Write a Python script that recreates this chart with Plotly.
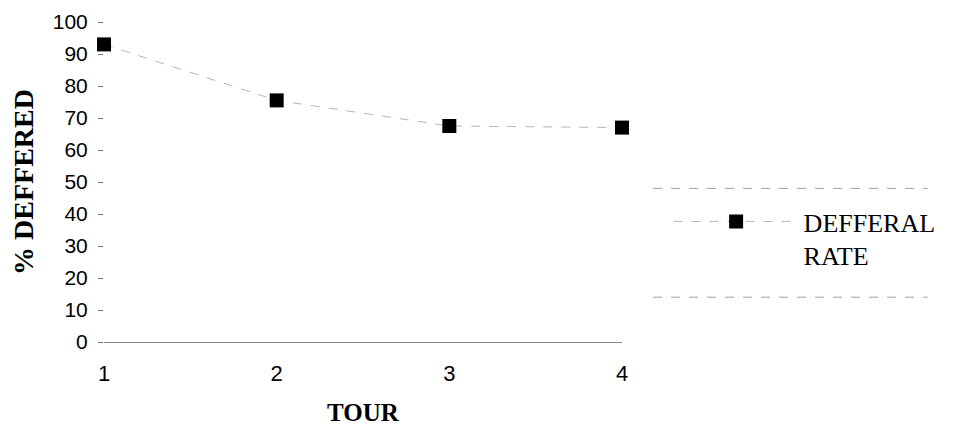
import plotly.graph_objects as go

tours = [1, 2, 3, 4]
deferral_rate = [93, 75.5, 67.5, 67]
y_ticks = [0, 10, 20, 30, 40, 50, 60, 70, 80, 90, 100]
series_name = "DEFFERAL<br>RATE"

fig = go.Figure()
fig.add_trace(go.Scatter(
    x=tours, y=deferral_rate, mode="lines+markers", name=series_name,
    line=dict(color="#b5b5b5", width=1, dash="dash"),
    marker=dict(symbol="square", size=14, color="black"),
    cliponaxis=False,
))

fig.update_layout(
    width=945, height=423,
    margin=dict(l=96, r=323, t=14, b=89),
    paper_bgcolor="white", plot_bgcolor="white",
    showlegend=True,
    legend=dict(
        x=1.09, y=0.45, xanchor="left", yanchor="top", valign="top",
        font=dict(family="Liberation Serif", size=26, color="black"),
        itemwidth=125, bgcolor="rgba(0,0,0,0)",
    ),
    xaxis=dict(
        range=[1, 4], tickvals=tours, ticktext=[str(t) for t in tours],
        showgrid=False, zeroline=False, automargin=False,
        showline=True, linecolor="#8a8a8a", linewidth=1,
        ticks="", tickfont=dict(family="Liberation Sans", size=22, color="black"),
        ticklabelstandoff=12,
        title=dict(text="<b>TOUR</b>", font=dict(family="Liberation Serif", size=25, color="black"), standoff=18),
    ),
    yaxis=dict(
        range=[0, 100], tickvals=y_ticks,
        showgrid=False, zeroline=False, showline=False, automargin=False,
        ticks="outside", ticklen=5, tickcolor="#777", tickwidth=1,
        tickfont=dict(family="Liberation Sans", size=21, color="black"),
        ticklabelstandoff=6,
        title=dict(text="<b>% DEFFERED</b>", font=dict(family="Liberation Serif", size=28, color="black"), standoff=12),
    ),
    shapes=[
        dict(type="line", xref="paper", yref="y", x0=1.06, x1=1.59, y0=48, y1=48,
             line=dict(color="#a0a0a0", width=1, dash="dash")),
        dict(type="line", xref="paper", yref="y", x0=1.06, x1=1.59, y0=14, y1=14,
             line=dict(color="#a0a0a0", width=1, dash="dash")),
    ],
)

fig.write_html("out.html")
